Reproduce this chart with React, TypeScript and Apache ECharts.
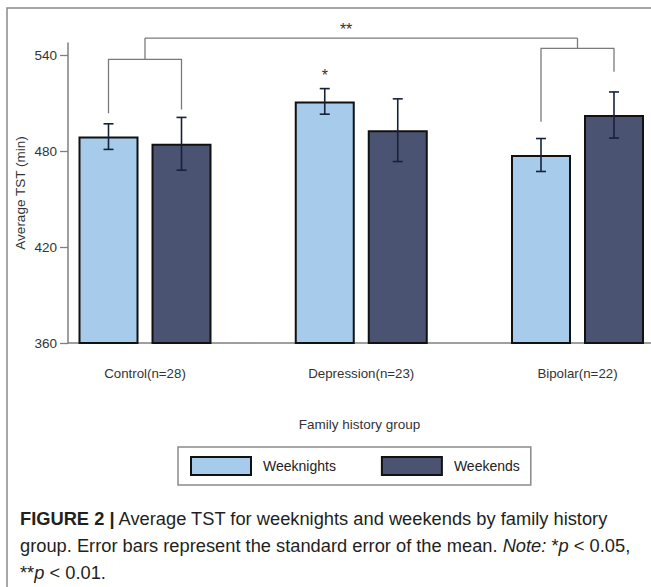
import React, { useEffect, useRef } from 'react';
import * as echarts from 'echarts';

const categories = ['Control(n=28)', 'Depression(n=23)', 'Bipolar(n=22)'];
const seriesNames = ['Weeknights', 'Weekends'];
const weeknightMeans = [489, 511, 477.5];
const weeknightSE = [8, 8, 10.3];
const weekendMeans = [484.5, 493, 502.5];
const weekendSE = [16.5, 19.6, 14.4];
const yTicks = [360, 420, 480, 540];

// significance brackets (group index, leg bottoms, crossbar level) in minutes
const bracketGroups = [0, 2];
const bracketLeftBottoms = [503.6, 498.3];
const bracketRightBottoms = [506, 529.6];
const bracketLevels = [537.3, 544.2];
const topBracketLevel = 550.6;

// significance stars
const starTexts = ['*', '**'];
const starX = [1, 0.93];
const starSide = [-1, 0];
const starY = [527.5, 556];

const captionLines = [
  '{b|FIGURE 2 |} Average TST for weeknights and weekends by family history',
  'group. Error bars represent the standard error of the mean. {i|Note:} *{i|p} < 0.05,',
  '**{i|p} < 0.01.',
];

const FONT = '"Liberation Sans", Arial, Helvetica, sans-serif';
const BAR_WIDTH = 60;
const BAR_GAP = 13;
const OFFSET = (BAR_WIDTH + BAR_GAP) / 2;
const LIGHT = '#a6cbeb';
const DARK = '#4a5472';
const ERR = '#17213b';
const BRACKET = '#7a7a7a';
const AXIS = '#7f7f7f';
const CAP_SIZE = 18.3;

function errorSeries(means: number[], se: number[], side: number) {
  return {
    type: 'custom',
    silent: true,
    z: 5,
    clip: false,
    data: means.map((m, i) => [i, m - se[i], m + se[i]]),
    renderItem: (_p: any, api: any) => {
      const x = api.value(0);
      const lo = api.coord([x, api.value(1)]);
      const hi = api.coord([x, api.value(2)]);
      const cx = lo[0] + side * OFFSET;
      const st = { stroke: ERR, lineWidth: 1.6 };
      return {
        type: 'group',
        children: [
          { type: 'line', shape: { x1: cx, y1: lo[1], x2: cx, y2: hi[1] }, style: st },
          { type: 'line', shape: { x1: cx - 5, y1: lo[1], x2: cx + 5, y2: lo[1] }, style: st },
          { type: 'line', shape: { x1: cx - 5, y1: hi[1], x2: cx + 5, y2: hi[1] }, style: st },
        ],
      };
    },
  };
}

export default function App() {
  const ref = useRef<HTMLDivElement>(null);
  useEffect(() => {
    if (!ref.current) return;
    const chart = echarts.init(ref.current, undefined, { renderer: 'svg' });
    const pxPerUnit = 216.25;
    const gridLeft = 68;
    const gridWidth = 651 - gridLeft;
    const xMin = -(145 - gridLeft) / pxPerUnit;
    const xMax = xMin + gridWidth / pxPerUnit;
    const bracketStyle = { stroke: BRACKET, lineWidth: 1.3, fill: 'none' };

    const option: any = {
      animation: false,
      backgroundColor: '#ffffff',
      textStyle: { fontFamily: FONT },
      grid: { left: gridLeft, right: 0, top: 43, bottom: 244 },
      legend: {
        data: seriesNames,
        left: 178,
        top: 447,
        orient: 'horizontal',
        icon: 'rect',
        itemWidth: 60,
        itemHeight: 18,
        itemGap: 45,
        padding: [9, 11, 9, 12],
        borderColor: '#8a8a8a',
        borderWidth: 1.5,
        textStyle: { fontSize: 14, color: '#222', fontFamily: FONT, padding: [0, 0, 0, 7] },
      },
      xAxis: {
        type: 'value',
        min: xMin,
        max: xMax,
        name: 'Family history group',
        nameLocation: 'middle',
        nameGap: 74,
        nameMoveOverlap: false,
        nameTextStyle: { fontSize: 13.5, color: '#333', fontFamily: FONT },
        axisLine: { show: true, onZero: false, lineStyle: { color: AXIS, width: 1.5 } },
        axisTick: { show: false },
        splitLine: { show: false },
        axisLabel: {
          customValues: categories.map((_, i) => i),
          formatter: (v: number) => categories[Math.round(v)] ?? '',
          fontSize: 13.3,
          color: '#333',
          margin: 24,
          fontFamily: FONT,
        },
      },
      yAxis: {
        type: 'value',
        min: 360,
        max: 547.5,
        name: 'Average TST (min)',
        nameLocation: 'middle',
        nameGap: 41,
        nameMoveOverlap: false,
        nameTextStyle: { fontSize: 13.5, color: '#333', fontFamily: FONT },
        axisLine: { show: true, onZero: false, lineStyle: { color: AXIS, width: 1.5 } },
        axisTick: { show: true, customValues: yTicks, length: 8, lineStyle: { color: AXIS, width: 1.3 } },
        splitLine: { show: false },
        axisLabel: { customValues: yTicks, fontSize: 13.5, color: '#333', margin: 11, fontFamily: FONT },
      },
      series: [
        {
          name: seriesNames[0],
          type: 'bar',
          barWidth: BAR_WIDTH,
          barGap: `${(BAR_GAP / BAR_WIDTH) * 100}%`,
          data: weeknightMeans.map((m, i) => [i, m]),
          itemStyle: { color: LIGHT, borderColor: '#111111', borderWidth: 2 },
          silent: true,
        },
        {
          name: seriesNames[1],
          type: 'bar',
          barWidth: BAR_WIDTH,
          barGap: `${(BAR_GAP / BAR_WIDTH) * 100}%`,
          data: weekendMeans.map((m, i) => [i, m]),
          itemStyle: { color: DARK, borderColor: '#111111', borderWidth: 2 },
          silent: true,
        },
        errorSeries(weeknightMeans, weeknightSE, -1),
        errorSeries(weekendMeans, weekendSE, 1),
        {
          type: 'custom',
          silent: true,
          clip: false,
          z: 6,
          data: bracketGroups.map((g, i) => [g, bracketLevels[i], bracketLeftBottoms[i], bracketRightBottoms[i], topBracketLevel]),
          renderItem: (_p: any, api: any) => {
            const g = api.value(0);
            const lv = api.coord([g, api.value(1)]);
            const lb = api.coord([g, api.value(2)]);
            const rb = api.coord([g, api.value(3)]);
            const tp = api.coord([g, api.value(4)]);
            const cx = lv[0];
            return {
              type: 'group',
              children: [
                {
                  type: 'polyline',
                  shape: { points: [[cx - OFFSET, lb[1]], [cx - OFFSET, lv[1]], [cx + OFFSET, lv[1]], [cx + OFFSET, rb[1]]] },
                  style: bracketStyle,
                },
                { type: 'line', shape: { x1: cx, y1: lv[1], x2: cx, y2: tp[1] }, style: bracketStyle },
              ],
            };
          },
        },
        {
          type: 'custom',
          silent: true,
          clip: false,
          z: 6,
          data: [[bracketGroups[0], bracketGroups[1], topBracketLevel]],
          renderItem: (_p: any, api: any) => {
            const a = api.coord([api.value(0), api.value(2)]);
            const b = api.coord([api.value(1), api.value(2)]);
            return { type: 'line', shape: { x1: a[0], y1: a[1], x2: b[0], y2: b[1] }, style: bracketStyle };
          },
        },
        {
          type: 'custom',
          silent: true,
          clip: false,
          z: 7,
          data: starX.map((x, i) => [x, starY[i], starSide[i]]),
          renderItem: (p: any, api: any) => {
            const c = api.coord([api.value(0), api.value(1)]);
            return {
              type: 'text',
              x: c[0] + api.value(2) * OFFSET,
              y: c[1],
              style: {
                text: starTexts[p.dataIndex],
                fontSize: 16,
                fontFamily: FONT,
                fill: '#333',
                align: 'center',
                verticalAlign: 'middle',
              },
            };
          },
        },
      ],
      graphic: [
        {
          type: 'rect',
          shape: { x: 7, y: 8, width: 720, height: 700 },
          style: { fill: 'none', stroke: '#8a8a8a', lineWidth: 1.5 },
          silent: true,
        },
        {
          type: 'text',
          left: 20,
          top: 505,
          style: {
            text: captionLines.join('\n'),
            fontSize: CAP_SIZE,
            lineHeight: 27,
            fontFamily: FONT,
            fill: '#231f20',
            rich: {
              b: { fontWeight: 'bold', fontSize: CAP_SIZE, lineHeight: 27, fontFamily: FONT, fill: '#231f20' },
              i: { fontStyle: 'italic', fontSize: CAP_SIZE, lineHeight: 27, fontFamily: FONT, fill: '#231f20' },
            },
          },
        },
      ],
    };
    chart.setOption(option);
    return () => chart.dispose();
  }, []);
  return (
    <div
      ref={ref}
      style={{ position: 'fixed', left: 0, top: 0, width: 651, height: 587, background: '#fff' }}
    />
  );
}
